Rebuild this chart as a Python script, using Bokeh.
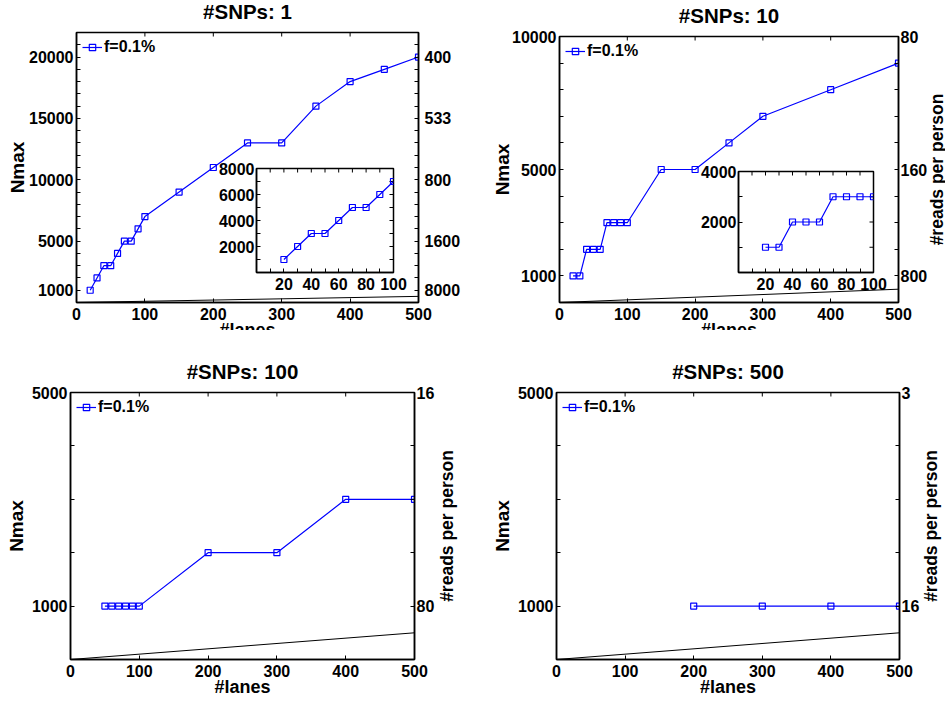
import math
from bokeh.plotting import figure
from bokeh.models import LinearAxis, FixedTicker, Range1d, GridBox, Legend, LegendItem
from bokeh.core.properties import value
from bokeh.embed import file_html
from bokeh.resources import INLINE

FONT = "Liberation Sans"
BLUE = "#0000ff"
TICK_FS = "16px"

# ---------------- data ----------------
titles = ["#SNPs: 1", "#SNPs: 10", "#SNPs: 100", "#SNPs: 500"]
legend_label = "f=0.1%"
x_label = "#lanes"
y_label = "Nmax"
y2_label = "#reads per person"

lanes_1 = [20, 30, 40, 50, 60, 70, 80, 90, 100, 150, 200, 250, 300, 350, 400, 450, 500]
nmax_1 = [1000, 2000, 3000, 3000, 4000, 5000, 5000, 6000, 7000, 9000, 11000, 13000, 13000,
          16000, 18000, 19000, 20000]

lanes_10 = [20, 30, 40, 50, 60, 70, 80, 90, 100, 150, 200, 250, 300, 400, 500]
nmax_10 = [1000, 1000, 2000, 2000, 2000, 3000, 3000, 3000, 3000, 5000, 5000, 6000, 7000, 8000, 9000]

lanes_100 = [50, 60, 70, 80, 90, 100, 200, 300, 400, 500]
nmax_100 = [1000, 1000, 1000, 1000, 1000, 1000, 2000, 2000, 3000, 3000]

lanes_500 = [200, 300, 400, 500]
nmax_500 = [1000, 1000, 1000, 1000]

inset_lanes = [20, 30, 40, 50, 60, 70, 80, 90, 100]
inset_nmax_1 = [1000, 2000, 3000, 3000, 4000, 5000, 5000, 6000, 7000]
inset_nmax_10 = [1000, 1000, 2000, 2000, 2000, 3000, 3000, 3000, 3000]

ref_lanes = [0, 500]
ref_nmax = [0, 500]

x_max = 500
x_ticks = [0, 100, 200, 300, 400, 500]
y_max = [22000, 10000, 5000, 5000]
y_ticks = [
    [1000, 5000, 10000, 15000, 20000],
    [1000, 5000, 10000],
    [1000, 5000],
    [1000, 5000],
]
reads_labels = [
    ["8000", "1600", "800", "533", "400"],
    ["800", "160", "80"],
    ["80", "16"],
    ["16", "3"],
]
inset_x_max = 100
inset_x_ticks = [20, 40, 60, 80, 100]
inset_y_max = [8000, 4000]
inset_y_ticks = [[2000, 4000, 6000, 8000], [2000, 4000]]

# ---------------- layout (page pixels) ----------------
PAGE_W, PAGE_H, SPLIT_Y = 945, 702, 330
# figure boxes (x0, y0, x1, y1) and frame boxes (left, top, right, bottom)
fig_boxes = [(0, 0, 472, 345), (472, 0, 945, 345), (0, 330, 472, 702), (472, 330, 945, 702)]
frames = [(76, 32, 418, 302), (559, 36, 898, 302), (70, 392, 414, 659), (556, 392, 899, 659)]
title_gap = 21.5                     # frame top -> centre of the title
xlabel_gap = 27.4                    # frame bottom -> centre of "#lanes"
nmax_gap = [59.5, 57.5, 53.7, 54]    # frame left -> centre of "Nmax"
reads_gap = [None, 38, 32.2, 31.6]   # frame right -> centre of "#reads per person"
right_standoff = [6, 2, 2, 2]
inset_boxes = [(214, 160, 410, 296), (697, 163, 890, 298)]
inset_frames = [(256, 168, 393, 272), (738, 171, 873, 272)]


def style_axis(ax, standoff=3):
    ax.axis_line_color = "black"
    ax.axis_line_width = 1.5
    ax.major_tick_in = 4
    ax.major_tick_out = 0
    ax.minor_tick_in = 4
    ax.minor_tick_out = 0
    ax.major_tick_line_color = "black"
    ax.minor_tick_line_color = "black"
    ax.major_tick_line_width = 1
    ax.minor_tick_line_width = 1
    ax.major_label_text_font = FONT
    ax.major_label_text_font_style = "bold"
    ax.major_label_text_color = "black"
    ax.major_label_text_font_size = TICK_FS
    ax.major_label_standoff = standoff


def minor_list(step, top, majors):
    return [v for v in range(0, top + 1, step) if v not in majors]


def mirror_ticks_top(p, ticks, ytop):
    p.scatter(ticks, [ytop] * len(ticks), marker="dash", angle=math.pi / 2, size=8,
              line_color="black", line_width=1)


def mirror_ticks_right(p, ticks, xright):
    p.scatter([xright] * len(ticks), ticks, marker="dash", size=8,
              line_color="black", line_width=1)


def add_series(p, xs, ys, size=6):
    r_line = p.line(xs, ys, line_color=BLUE, line_width=1.2)
    r_mark = p.scatter(xs, ys, marker="square", size=size, line_color=BLUE,
                       fill_alpha=0, line_width=1.2)
    return r_line, r_mark


def borders_of(box, frame):
    x0, y0, x1, y1 = box
    l, t, r, b = frame
    return dict(min_border_left=l - x0, min_border_right=x1 - r,
                min_border_top=t - y0, min_border_bottom=y1 - b)


def make_main(i, lanes, nmax):
    ymax = y_max[i]
    yt = y_ticks[i]
    box = fig_boxes[i]
    p = figure(width=box[2] - box[0], height=box[3] - box[1], x_range=Range1d(0, x_max),
               y_range=Range1d(0, ymax), output_backend="svg",
               toolbar_location=None, title=None, **borders_of(box, frames[i]))
    p.grid.visible = False
    p.outline_line_color = "black"
    p.outline_line_width = 1.5
    p.background_fill_color = "white"
    p.border_fill_color = "white"

    xa = p.xaxis[0]
    xa.ticker = FixedTicker(ticks=x_ticks, minor_ticks=[])
    style_axis(xa, 5)

    ya = p.yaxis[0]
    ya.ticker = FixedTicker(ticks=yt, minor_ticks=minor_list(1000, ymax, yt))
    ya.major_label_overrides = {t: str(t) for t in yt}
    style_axis(ya, 3)

    ra = LinearAxis(ticker=FixedTicker(ticks=yt, minor_ticks=minor_list(1000, ymax, yt)),
                    major_label_overrides=dict(zip(yt, reads_labels[i])))
    style_axis(ra, right_standoff[i])
    p.add_layout(ra, "right")

    mirror_ticks_top(p, x_ticks, ymax)

    p.line(ref_lanes, ref_nmax, line_color="black", line_width=1)
    r_line, r_mark = add_series(p, lanes, nmax)

    leg = Legend(items=[LegendItem(label=value(legend_label), renderers=[r_line, r_mark])],
                 location="top_left")
    leg.border_line_alpha = 0
    leg.background_fill_alpha = 0
    leg.padding = 0
    leg.margin = 6
    leg.spacing = 0
    leg.glyph_width = 20
    leg.glyph_height = 16
    leg.label_standoff = 2
    leg.label_height = 16
    leg.label_text_font = FONT
    leg.label_text_font_style = "bold"
    leg.label_text_font_size = TICK_FS
    leg.label_text_color = "black"
    p.add_layout(leg)
    return p


def make_inset(j, lanes, nmax):
    ymax = inset_y_max[j]
    yt = inset_y_ticks[j]
    box = inset_boxes[j]
    p = figure(width=box[2] - box[0], height=box[3] - box[1], x_range=Range1d(0, inset_x_max),
               y_range=Range1d(0, ymax), output_backend="svg",
               toolbar_location=None, title=None, **borders_of(box, inset_frames[j]))
    p.grid.visible = False
    p.outline_line_color = "black"
    p.outline_line_width = 1.5
    p.background_fill_color = "white"
    p.border_fill_color = None

    xminor = minor_list(10, inset_x_max, inset_x_ticks)
    yminor = minor_list(1000, ymax, yt)
    xa = p.xaxis[0]
    xa.ticker = FixedTicker(ticks=inset_x_ticks, minor_ticks=xminor)
    style_axis(xa, 5)
    ya = p.yaxis[0]
    ya.ticker = FixedTicker(ticks=yt, minor_ticks=yminor)
    ya.major_label_overrides = {t: str(t) for t in yt}
    style_axis(ya, 2)

    mirror_ticks_top(p, inset_x_ticks + xminor, ymax)
    mirror_ticks_right(p, yt + yminor, inset_x_max)

    add_series(p, lanes, nmax)
    return p


def make_overlay(y0, y1, panels):
    """Transparent text layer over part of the page; text outside it is clipped."""
    h = y1 - y0
    o = figure(width=PAGE_W, height=h, x_range=Range1d(0, PAGE_W), y_range=Range1d(0, h),
               output_backend="svg", toolbar_location=None, title=None,
               x_axis_location=None, y_axis_location=None,
               min_border_left=0, min_border_right=0, min_border_top=0, min_border_bottom=0)
    o.grid.visible = False
    o.outline_line_color = None
    o.background_fill_color = None
    o.border_fill_color = None

    def put(xs, ys, texts, size, angle=0.0):
        o.text(x=xs, y=[y1 - y for y in ys], text=texts, angle=angle,
               text_font=value(FONT), text_font_style="bold", text_font_size=value(size),
               text_color="black", text_align="center", text_baseline="middle")

    cx = [(frames[i][0] + frames[i][2]) / 2 for i in panels]
    cy = [(frames[i][1] + frames[i][3]) / 2 for i in panels]
    put(cx, [frames[i][1] - title_gap for i in panels], [titles[i] for i in panels], "20.5px")
    put(cx, [frames[i][3] + xlabel_gap for i in panels], [x_label] * len(panels), "18px")
    put([frames[i][0] - nmax_gap[i] for i in panels], cy, [y_label] * len(panels), "19px",
        math.pi / 2)
    rp = [i for i in panels if reads_gap[i] is not None]
    put([frames[i][2] + reads_gap[i] for i in rp],
        [(frames[i][1] + frames[i][3]) / 2 for i in rp], [y2_label] * len(rp), "17.5px",
        math.pi / 2)
    return o


f1 = make_main(0, lanes_1, nmax_1)
f2 = make_main(1, lanes_10, nmax_10)
f3 = make_main(2, lanes_100, nmax_100)
f4 = make_main(3, lanes_500, nmax_500)
in1 = make_inset(0, inset_lanes, inset_nmax_1)
in2 = make_inset(1, inset_lanes, inset_nmax_10)
ov_top = make_overlay(0, SPLIT_Y, [0, 1])
ov_bot = make_overlay(SPLIT_Y, PAGE_H, [2, 3])

# zero-size tracks keep every element on its own grid lines (no frame alignment)
cols = ["0px", "0px", "214px", "196px", "62px", "0px", "0px", "0px", "225px", "193px",
        "55px", "0px", "0px"]
rows = ["0px", "0px", "160px", "3px", "133px", "2px", "32px", "0px", "0px", "0px",
        "15px", "0px", "357px", "0px", "0px"]

grid = GridBox(
    children=[(f1, 1, 1, 10, 4), (f2, 2, 7, 10, 4),
              (in1, 3, 3, 2, 1), (in2, 4, 9, 2, 1),
              (f3, 9, 2, 4, 4), (f4, 10, 8, 4, 4),
              (ov_top, 0, 0, 7, 13), (ov_bot, 8, 0, 7, 13)],
    rows=rows,
    cols=cols,
)

open("out.html", "w").write(file_html(grid, INLINE))
